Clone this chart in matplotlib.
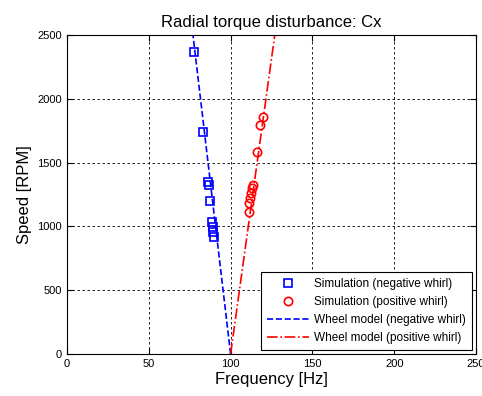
import matplotlib
matplotlib.use("Agg")
import matplotlib.pyplot as plt

neg_freq = [77.8, 83.3, 86.4, 86.8, 87.6, 88.4, 89.1, 89.4, 89.7]
neg_rpm = [2369, 1742, 1350, 1324, 1201, 1037, 998, 958, 919]
pos_freq = [119.6, 118.0, 116.3, 113.5, 112.9, 112.3, 111.9, 111.4, 111.1]
pos_rpm = [1855, 1795, 1581, 1324, 1298, 1259, 1220, 1181, 1115]
model_rpm = [0, 2500]
model_neg_freq = [100, 77]
model_pos_freq = [100, 127]

plt.rcParams['font.family'] = ['Liberation Sans', 'DejaVu Sans']
fig = plt.figure(figsize=(4.82, 3.96), dpi=100)
ax = fig.add_axes([0.139, 0.106, 0.8486, 0.8056])

ax.plot(neg_freq, neg_rpm, 's', mfc='none', mec='#0000ff', mew=1.2, ms=6,
        label='Simulation (negative whirl)')
ax.plot(pos_freq, pos_rpm, 'o', mfc='none', mec='#ff0000', mew=1.2, ms=6,
        label='Simulation (positive whirl)')
ax.plot(model_neg_freq, model_rpm, '--', color='#0000ff', lw=1.2,
        label='Wheel model (negative whirl)')
ax.plot(model_pos_freq, model_rpm, '-.', color='#ff0000', lw=1.2,
        label='Wheel model (positive whirl)')

ax.set_xlim(0, 250)
ax.set_ylim(0, 2500)
ax.set_xticks([0, 50, 100, 150, 200, 250])
ax.set_yticks([0, 500, 1000, 1500, 2000, 2500])
ax.grid(True, color='black', linestyle=(0, (3, 3)), linewidth=0.6)
ax.tick_params(direction='in', labelsize=8, length=4, top=True, right=True)
for s in ax.spines.values():
    s.set_linewidth(0.8)
ax.set_xlabel('Frequency [Hz]', fontsize=12, labelpad=2)
ax.set_ylabel('Speed [RPM]', fontsize=12)
ax.set_title('Radial torque disturbance: Cx', fontsize=12, pad=6)
leg = ax.legend(loc='lower right', fontsize=8.5, fancybox=False, edgecolor='black',
                framealpha=1, borderaxespad=0.35, handlelength=3.6,
                labelspacing=0.5, handletextpad=0.4, borderpad=0.5)
leg.get_frame().set_linewidth(0.8)
fig.savefig('out.png', dpi=100)
